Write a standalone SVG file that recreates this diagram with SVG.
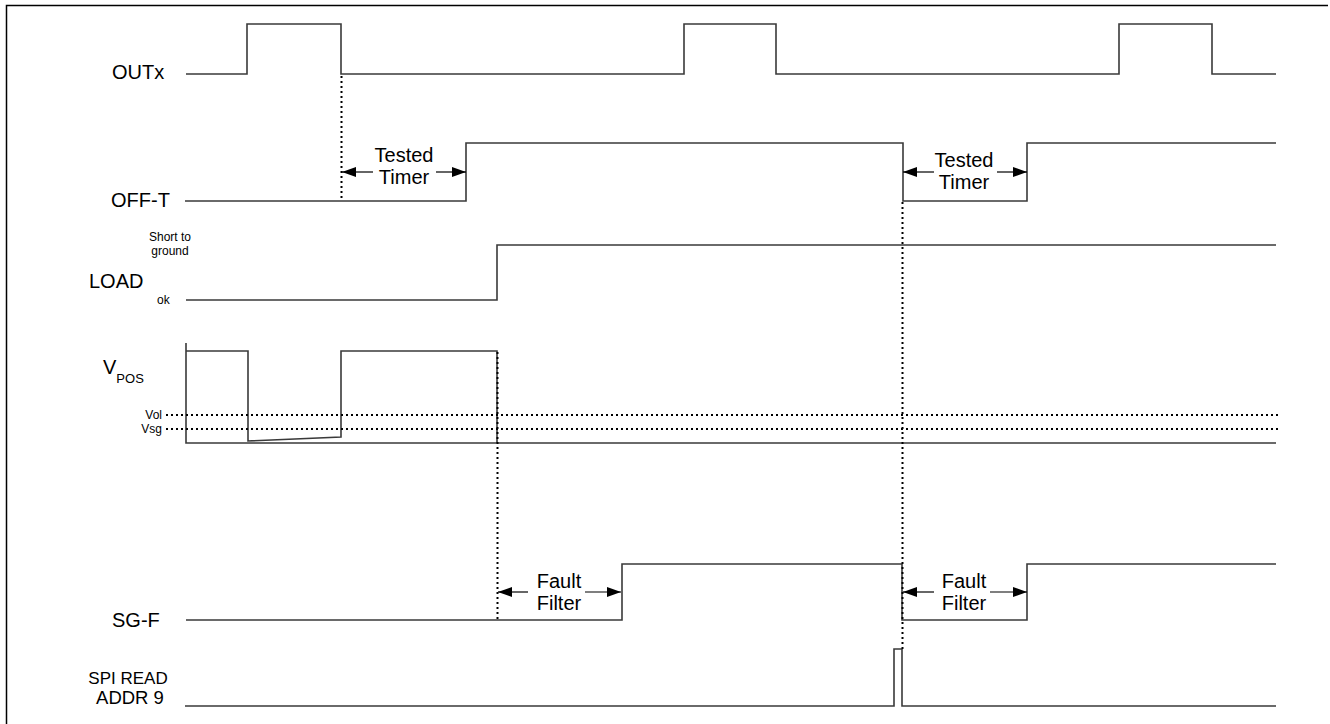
<svg xmlns="http://www.w3.org/2000/svg" width="1330" height="724" viewBox="0 0 1330 724">
<style>
.frame{fill:none;stroke:#000;stroke-width:1.5}
.sig{fill:none;stroke:#3a3a3a;stroke-width:1.6}
.dot{fill:none;stroke:#000;stroke-width:2;stroke-dasharray:2 3}
.arr{fill:none;stroke:#000;stroke-width:1.2}
.lbl{font-family:"Liberation Sans",Arial,sans-serif;font-size:20px;fill:#000}
.ann{font-family:"Liberation Sans",Arial,sans-serif;font-size:20px;fill:#000;text-anchor:middle}
.sm{font-family:"Liberation Sans",Arial,sans-serif;font-size:12px;fill:#000}
</style>
<defs>
<marker id="ah" viewBox="0 0 14 10" refX="14" refY="5" markerWidth="14" markerHeight="10" markerUnits="userSpaceOnUse" orient="auto">
<path d="M0,0 L14,5 L0,10 Z" fill="#000"/>
</marker>
</defs>
<rect width="1330" height="724" fill="#fff"/>
<path class="frame" d="M6.5,730 V5.5 H1328"/>

<g id="outx">
<text class="lbl" x="112" y="79">OUTx</text>
<path class="sig" d="M186,74 H247 V24 H341 V74 H684 V24 H776 V74 H1119 V24 H1212 V74 H1276"/>
</g>

<g id="offt">
<text class="lbl" x="111" y="207">OFF-T</text>
<path class="sig" d="M185,201 H466 V143 H903 V201 H1027 V143 H1276"/>
</g>

<g id="load">
<text class="sm" x="170" y="241" text-anchor="middle">Short to</text>
<text class="sm" x="170" y="255" text-anchor="middle">ground</text>
<text class="lbl" x="89" y="288">LOAD</text>
<text class="sm" x="157" y="304">ok</text>
<path class="sig" d="M186,300 H497 V245 H1276"/>
</g>

<g id="vpos">
<text class="lbl" x="103" y="374">V<tspan font-size="13" dy="9">POS</tspan></text>
<text class="sm" x="162" y="419" text-anchor="end">Vol</text>
<text class="sm" x="162" y="433" text-anchor="end">Vsg</text>
<path class="sig" d="M186,343 V443 H1276"/>
<path class="sig" d="M186,351 H248 V441 L341,437 V351 H497 V443"/>
<path class="dot" d="M166,415 H1278"/>
<path class="dot" d="M166,429 H1278"/>
</g>

<g id="sgf">
<text class="lbl" x="112" y="627">SG-F</text>
<path class="sig" d="M186,620 H622 V564 H902 V620 H1027 V564 H1276"/>
</g>

<g id="spi">
<text class="lbl" x="128" y="684" text-anchor="middle" style="font-size:17px">SPI READ</text>
<text class="lbl" x="130" y="704" text-anchor="middle" style="font-size:18.5px">ADDR 9</text>
<path class="sig" d="M185,706 H894 V649 H902 V706 H1276"/>
</g>

<g id="connectors">
<path class="dot" d="M341.5,76 V201"/>
<path class="dot" d="M497.5,352 V620"/>
<path class="dot" d="M902.5,202 V649"/>
<path class="arr" d="M373,172 H342" marker-end="url(#ah)"/>
<path class="arr" d="M436,172 H466" marker-end="url(#ah)"/>
<path class="arr" d="M934,172 H903" marker-end="url(#ah)"/>
<path class="arr" d="M997,172 H1027" marker-end="url(#ah)"/>
<path class="arr" d="M528,592 H498" marker-end="url(#ah)"/>
<path class="arr" d="M585,592 H621" marker-end="url(#ah)"/>
<path class="arr" d="M934,592 H903" marker-end="url(#ah)"/>
<path class="arr" d="M990,592 H1027" marker-end="url(#ah)"/>
<text class="ann" x="404" y="162">Tested</text>
<text class="ann" x="404" y="184">Timer</text>
<text class="ann" x="964" y="167">Tested</text>
<text class="ann" x="964" y="189">Timer</text>
<text class="ann" x="559" y="588">Fault</text>
<text class="ann" x="559" y="610">Filter</text>
<text class="ann" x="964" y="588">Fault</text>
<text class="ann" x="964" y="610">Filter</text>
</g>
</svg>
